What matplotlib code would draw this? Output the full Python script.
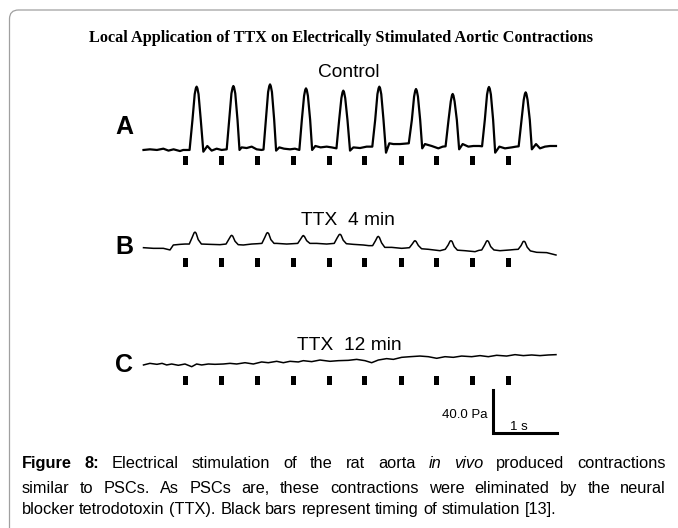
import numpy as np
import matplotlib
matplotlib.use("Agg")
import matplotlib.pyplot as plt
from matplotlib.patches import FancyBboxPatch
from matplotlib.transforms import IdentityTransform

W, H, DPI = 678, 528, 100

TITLE = "Local Application of TTX on Electrically Stimulated Aortic Contractions"
PANELS = ["A", "B", "C"]
CONDITIONS = ["Control", "TTX  4 min", "TTX  12 min"]

# stimulation times (s)
STIM_T = [0.65, 1.22, 1.78, 2.34, 2.90, 3.46, 4.03, 4.58, 5.14, 5.71]

# trace A (control): time (s), pressure relative to baseline (Pa)
A_T = [0.00, 0.10, 0.21, 0.31, 0.39, 0.47, 0.57, 0.62,
       0.72, 0.765, 0.80, 0.818, 0.83, 0.842, 0.86, 0.895, 0.935,
       0.997, 1.065, 1.143, 1.221,
       1.30, 1.339, 1.374, 1.392, 1.404, 1.416, 1.434, 1.469, 1.50,
       1.534, 1.612, 1.690, 1.768, 1.846,
       1.875, 1.912, 1.947, 1.965, 1.977, 1.989, 2.007, 2.042, 2.072,
       2.122, 2.195, 2.289, 2.367,
       2.435, 2.474, 2.509, 2.527, 2.539, 2.551, 2.569, 2.604, 2.635,
       2.685, 2.768, 2.862, 2.940,
       3.015, 3.057, 3.092, 3.110, 3.122, 3.134, 3.152, 3.187, 3.227,
       3.279, 3.383, 3.487,
       3.575, 3.620, 3.655, 3.673, 3.685, 3.697, 3.715, 3.750, 3.789,
       3.841, 3.904, 4.008, 4.08,
       4.145, 4.193, 4.228, 4.246, 4.258, 4.270, 4.288, 4.323, 4.355,
       4.398, 4.503, 4.607, 4.675,
       4.72, 4.766, 4.801, 4.819, 4.831, 4.843, 4.861, 4.896, 4.932,
       4.987, 5.076, 5.154, 5.247,
       5.290, 5.333, 5.368, 5.386, 5.398, 5.410, 5.428, 5.463, 5.495,
       5.560, 5.648, 5.753, 5.820,
       5.862, 5.906, 5.941, 5.959, 5.971, 5.983, 6.001, 6.036, 6.068,
       6.133, 6.195, 6.273, 6.352, 6.445]
A_P = [-0.9, -0.3, -0.9, 0.3, -1.5, -0.3, -1.9, -0.9,
       -0.9, 27, 51, 56.5, 58, 56.5, 51, 27, -2.5,
       2.8, -1.5, 0.3, -0.9,
       -0.3, 27, 51.6, 57, 58.6, 57, 51.6, 27, -0.9,
       1.5, 0.9, 2.2, -0.3, -0.9,
       -0.5, 27, 53, 58.5, 60.1, 58.5, 53, 27, -1.5,
       1.5, 0.3, -0.3, 0.3,
       -0.9, 27, 49.4, 55, 56.4, 55, 49.4, 27, -0.9,
       2.8, 1.5, 2.2, 1.5,
       0.6, 27, 47.3, 52.8, 54.3, 52.8, 47.3, 27, -1.5,
       1.5, 0.9, 2.2,
       2.2, 27, 51, 56.5, 58, 56.5, 51, 27, -3.4,
       5.3, 4.6, 4.6, 5.0,
       5.3, 27, 48.8, 54.3, 55.8, 54.3, 48.8, 27, 0.6,
       4.6, 2.8, 0.6, 2.2,
       2.5, 27, 44.2, 49.7, 51.2, 49.7, 44.2, 27, -0.3,
       4.6, 2.2, 2.8, 2.8,
       2.5, 27, 50.7, 56.2, 57.7, 56.2, 50.7, 27, -3.4,
       2.2, 0.6, 1.5, 2.2,
       2.5, 27, 45.7, 51.2, 52.7, 51.2, 45.7, 27, -0.3,
       4.6, 0.6, 2.2, 2.8, 2.8]

# trace B (TTX 4 min)
B_T = [0.00, 0.154, 0.31, 0.414, 0.466, 0.570, 0.65,
       0.715, 0.76, 0.79, 0.805, 0.822, 0.855, 0.905,
       1.039, 1.195,
       1.29, 1.335, 1.365, 1.378, 1.395, 1.43, 1.48,
       1.560, 1.690, 1.78,
       1.85, 1.895, 1.925, 1.94, 1.957, 1.99, 2.04,
       2.081, 2.237, 2.33,
       2.41, 2.455, 2.485, 2.497, 2.514, 2.55, 2.60,
       2.706, 2.862,
       2.98, 3.025, 3.055, 3.07, 3.087, 3.12, 3.17,
       3.279, 3.435, 3.52,
       3.58, 3.625, 3.655, 3.669, 3.686, 3.72, 3.77,
       3.878, 4.034, 4.10,
       4.155, 4.20, 4.23, 4.242, 4.259, 4.295, 4.345,
       4.451, 4.633,
       4.715, 4.76, 4.79, 4.805, 4.822, 4.855, 4.905,
       5.023, 5.180, 5.24,
       5.285, 5.33, 5.36, 5.373, 5.39, 5.425, 5.475,
       5.570, 5.727, 5.80,
       5.855, 5.90, 5.93, 5.945, 5.962, 5.995, 6.045,
       6.143, 6.299, 6.445]
B_P = [-2.5, -3.1, -3.1, -4.6, 0.0, 0.6, 0.9,
       0.9, 7, 11.3, 12, 11, 5, 0.9,
       0.6, 0.3,
       0.9, 5.5, 8.5, 9, 8.2, 3.5, 0.3,
       0.0, 0.9, 1.2,
       1.5, 7, 11, 11.5, 10.5, 5, 1.5,
       1.5, 0.9, 1.2,
       1.5, 5.5, 8.3, 8.8, 8, 4, 1.5,
       1.5, 0.9,
       1.5, 6.5, 9.5, 10, 9.2, 4.5, 1.2,
       0.6, 0.0, -0.6,
       -0.6, 4, 7.5, 8, 7, 2, -2.2,
       -2.2, -3.1, -2.8,
       -2.5, 1, 3.6, 4, 3.3, -0.5, -3.5,
       -4.0, -5.3,
       -4.0, 0, 3.6, 4, 3.3, -1.5, -4.8,
       -5.3, -6.2, -5.0,
       -4.6, 0, 3.6, 4, 3.3, -1.5, -4.6,
       -5.3, -4.6, -4.2,
       -4.0, -0.5, 3.1, 3.5, 2.8, -2.0, -5.5,
       -6.8, -7.1, -9.3]

# trace C (TTX 12 min)
C_T = [0.00, 0.10, 0.21, 0.29, 0.362, 0.44, 0.544, 0.648, 0.753, 0.83, 0.909,
       1.013, 1.117, 1.247, 1.352, 1.456, 1.586, 1.716, 1.846, 1.950, 2.081,
       2.185, 2.289, 2.419, 2.497, 2.628, 2.758, 2.914, 3.044, 3.20, 3.331,
       3.461, 3.565, 3.669, 3.799, 3.904, 4.034, 4.164, 4.32, 4.451, 4.581,
       4.711, 4.841, 4.971, 5.128, 5.258, 5.388, 5.518, 5.674, 5.805, 5.935,
       6.065, 6.195, 6.326, 6.445]
C_P = [-0.9, 0.6, -0.3, 0.6, -0.9, 0.0, -1.2, 0.0, -2.5, 0.0, -0.9,
       0.0, -0.3, 0.0, 0.6, 0.0, 1.2, 0.0, 1.9, 1.2, 2.5,
       1.2, 2.5, 1.9, 3.1, 2.2, 3.7, 2.5, 3.1, 3.4, 4.3,
       3.1, 1.2, 3.7, 5.0, 4.3, 6.2, 6.8, 7.4, 6.8, 5.3,
       6.8, 6.2, 7.4, 6.8, 7.8, 6.8, 8.1, 7.4, 8.7, 7.8,
       8.4, 7.8, 8.4, 8.7]

SCALE_PA = 40.0
SCALE_S = 1.0

CAPTION = [
    [("Figure", "bold", "normal"), ("8:", "bold", "normal"), ("Electrical", "normal", "normal"),
     ("stimulation", "normal", "normal"), ("of", "normal", "normal"), ("the", "normal", "normal"),
     ("rat", "normal", "normal"), ("aorta", "normal", "normal"), ("in", "normal", "italic"),
     ("vivo", "normal", "italic"), ("produced", "normal", "normal"), ("contractions", "normal", "normal")],
    "similar to PSCs. As PSCs are, these contractions were eliminated by the neural",
    "blocker tetrodotoxin (TTX). Black bars represent timing of stimulation [13].",
]

# layout (pixels)
PX_PER_S = 64.0
PX_PER_PA = 43.0 / 40.0
X0_PX = 143.5
BASE_PX = [149, 245, 364]
BAR_TOP_PX = [156, 257.5, 376]
LABEL_Y = [127, 247, 365]
COND_XY = [(349, 73), (348, 220), (349, 346)]
SANS = "Liberation Sans"


def ypos(px):
    return (H - px) / PX_PER_PA


def ptext(x, y, s, **kw):
    fig.text(x / W, 1 - y / H, s, **kw)


fig = plt.figure(figsize=(W / DPI, H / DPI), dpi=DPI)
fig.patch.set_facecolor("white")
ax = fig.add_axes([0, 0, 1, 1])
ax.set_xlim(-X0_PX / PX_PER_S, (W - X0_PX) / PX_PER_S)
ax.set_ylim(0, H / PX_PER_PA)
ax.axis("off")

frame = FancyBboxPatch((9.5, -80), 760, H - 10 + 80, boxstyle="round,pad=0,rounding_size=9",
                       transform=IdentityTransform(), facecolor="none", edgecolor="#a0a0a0", lw=0.9)
fig.add_artist(frame)

traces = [(A_T, A_P, 1.6), (B_T, B_P, 1.1), (C_T, C_P, 1.1)]
for i, (t, p, lw) in enumerate(traces):
    ax.plot(t, np.array(p) + ypos(BASE_PX[i]), color="black", lw=lw, solid_joinstyle="round")
    ax.bar(STIM_T, 9 / PX_PER_PA, width=5 / PX_PER_S, bottom=ypos(BAR_TOP_PX[i] + 9),
           color="black", align="center")
    ptext(124, LABEL_Y[i], PANELS[i], fontsize=18, fontweight="bold", family=SANS,
          ha="center", va="center")
    ptext(COND_XY[i][0], COND_XY[i][1], CONDITIONS[i], fontsize=13.8, family=SANS,
          ha="center", va="center")

# scale bar
sx = (493.3 - X0_PX) / PX_PER_S
sy = ypos(433.3)
ax.plot([sx, sx, sx + SCALE_S], [sy + SCALE_PA, sy, sy], color="black", lw=2.2,
        solid_joinstyle="miter", solid_capstyle="projecting")
ptext(465, 415, "%.1f Pa" % SCALE_PA, fontsize=9.5, family=SANS, ha="center", va="center")
ptext(518.5, 427, "%d s" % SCALE_S, fontsize=9.5, family=SANS, ha="center", va="center")

ptext(341, 38, TITLE, fontsize=11.7, fontweight="bold", family="Liberation Serif",
      ha="center", va="center")

# caption, justified like the page
CAP_SIZE = 11.8
CAP_X0, CAP_X1 = 21.6, 666
CAP_BASE = [468.3, 493.3, 514.3]
renderer = fig.canvas.get_renderer()
probe1 = fig.text(0, 0, "a a", fontsize=CAP_SIZE, family=SANS)
probe2 = fig.text(0, 0, "aa", fontsize=CAP_SIZE, family=SANS)
space_w = probe1.get_window_extent(renderer).width - probe2.get_window_extent(renderer).width
probe1.remove()
probe2.remove()

for n, (line, yb) in enumerate(zip(CAPTION, CAP_BASE)):
    if isinstance(line, str):
        words = [(w, "normal", "normal") for w in line.split(" ")]
    else:
        words = line
    items = [fig.text(0, H - yb, w, fontsize=CAP_SIZE, fontweight=wt, fontstyle=st,
                      family=SANS, transform=IdentityTransform(), va="baseline")
             for w, wt, st in words]
    widths = [it.get_window_extent(renderer).width for it in items]
    if n == len(CAPTION) - 1:
        gap = space_w
    else:
        gap = (CAP_X1 - CAP_X0 - sum(widths)) / (len(items) - 1)
    x = CAP_X0
    for it, w in zip(items, widths):
        it.set_x(x)
        x += w + gap

fig.savefig("out.png", dpi=DPI, facecolor="white")
